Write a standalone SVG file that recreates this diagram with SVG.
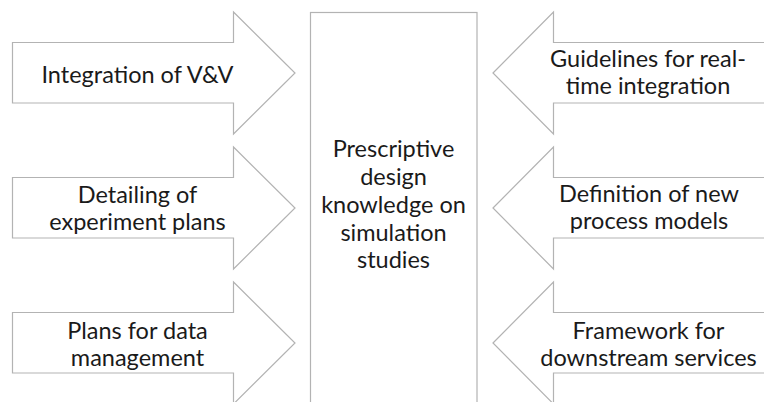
<svg xmlns="http://www.w3.org/2000/svg" width="764" height="402" viewBox="0 0 764 402">
  <style>
    .shape { fill: #ffffff; stroke: #b3b3b3; stroke-width: 1.2; }
    .lbl { font-family: Lato, "Liberation Sans", sans-serif; font-size: 23.5px; fill: #1a1a1a; text-anchor: middle; }
  </style>
  <rect x="0" y="0" width="764" height="402" fill="#ffffff"/>

  <g id="center-box">
    <rect class="shape" x="310.5" y="12.5" width="166.5" height="400"/>
    <text class="lbl" x="393.5" y="157">Prescriptive</text>
    <text class="lbl" x="393.5" y="185">design</text>
    <text class="lbl" x="393.5" y="213">knowledge on</text>
    <text class="lbl" x="393.5" y="240.5">simulation</text>
    <text class="lbl" x="393.5" y="268">studies</text>
  </g>

  <g id="arrow-vv">
    <polygon class="shape" points="12.5,42.5 233.5,42.5 233.5,12 295,73 233.5,134 233.5,103 12.5,103"/>
    <text class="lbl" x="137.5" y="82.5">Integration of V&amp;V</text>
  </g>

  <g id="arrow-experiment">
    <polygon class="shape" points="12.5,177.5 233.5,177.5 233.5,147 295,208 233.5,269 233.5,238 12.5,238"/>
    <text class="lbl" x="137.5" y="202.5">Detailing of</text>
    <text class="lbl" x="137.5" y="229.5">experiment plans</text>
  </g>

  <g id="arrow-data">
    <polygon class="shape" points="12.5,312.5 233.5,312.5 233.5,282 295,343 233.5,404 233.5,373 12.5,373"/>
    <text class="lbl" x="137.5" y="338.5">Plans for data</text>
    <text class="lbl" x="137.5" y="365.5">management</text>
  </g>

  <g id="arrow-realtime">
    <polygon class="shape" points="493,73 553.5,12 553.5,42.5 770,42.5 770,103 553.5,103 553.5,134"/>
    <text class="lbl" x="648" y="66.5">Guidelines for real-</text>
    <text class="lbl" x="648" y="93.5">time integration</text>
  </g>

  <g id="arrow-process">
    <polygon class="shape" points="493,208 553.5,147 553.5,177.5 770,177.5 770,238 553.5,238 553.5,269"/>
    <text class="lbl" x="649" y="201.5">Definition of new</text>
    <text class="lbl" x="649" y="228.5">process models</text>
  </g>

  <g id="arrow-services">
    <polygon class="shape" points="493,343 553.5,282 553.5,312.5 770,312.5 770,373 553.5,373 553.5,404"/>
    <text class="lbl" x="648.5" y="338.5">Framework for</text>
    <text class="lbl" x="648.5" y="365.5">downstream services</text>
  </g>
</svg>
